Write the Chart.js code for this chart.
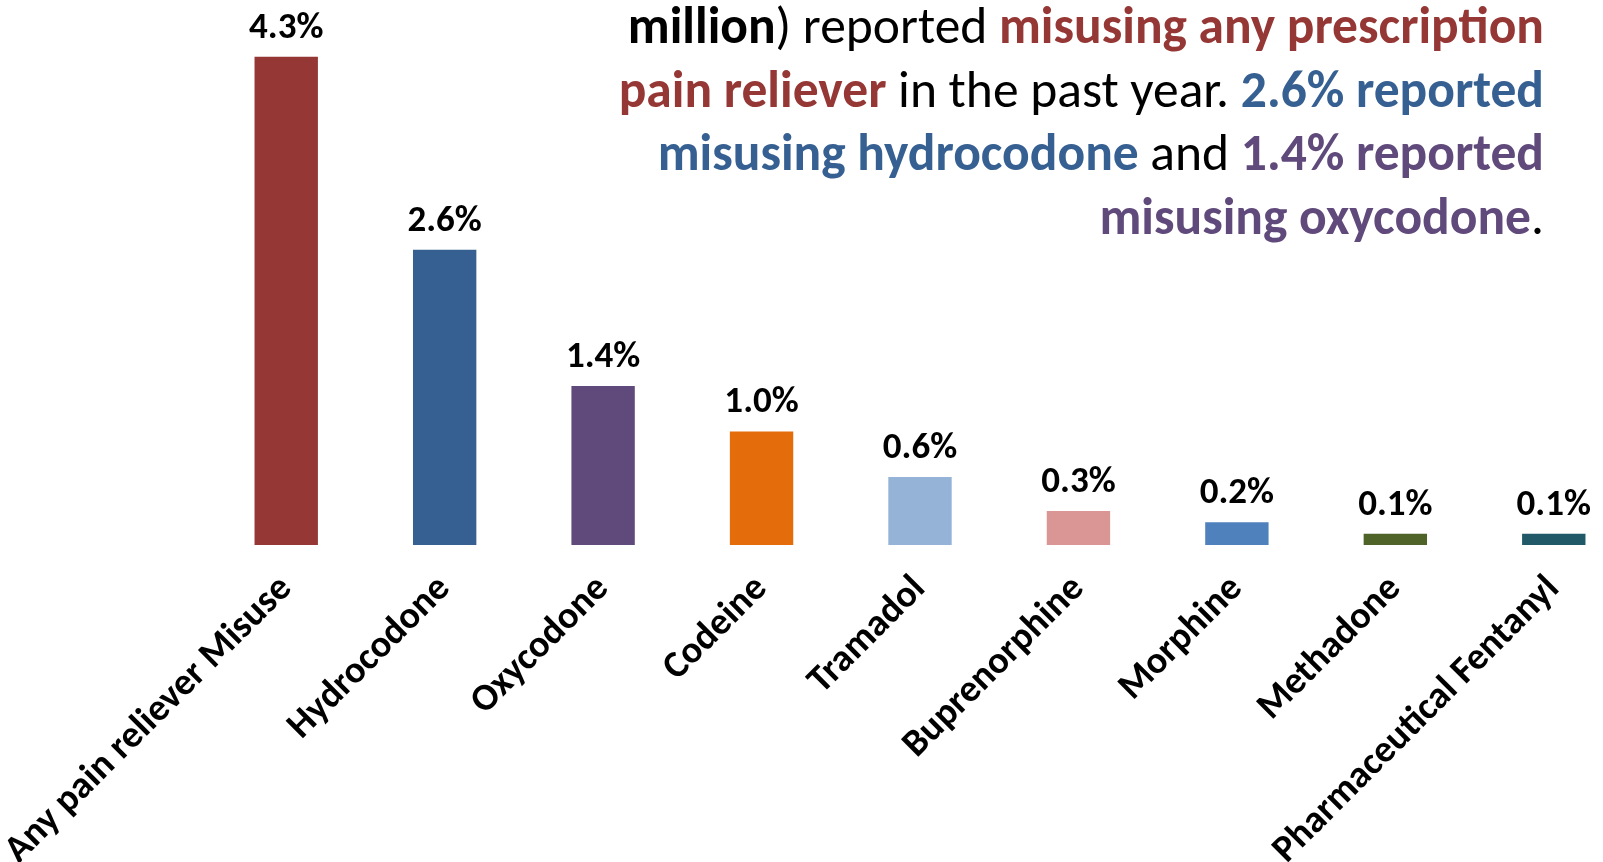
<!DOCTYPE html>
<html lang="en">
<head>
    <meta charset="UTF-8">
    <title>Prescription Pain Reliever Misuse</title>
    <script src="https://cdn.jsdelivr.net/npm/chart.js"></script>
    <style>
        body { margin: 0; width: 1603px; height: 862px; overflow: hidden; background: #fff; position: relative; }
        #wrap { position: absolute; left: -60px; top: 0; width: 1700px; height: 862px; }
        #note {
            position: absolute; right: 59px; top: -6px; text-align: right;
            font-family: Carlito, Lato, sans-serif; font-size: 51.5px; line-height: 63.5px;
            color: #000; white-space: nowrap;
        }
        #note b { font-weight: 700; }
        .red { color: #953735; }
        .blue { color: #376092; }
        .purple { color: #604A7B; }
    </style>
</head>
<body>
    <div id="wrap"><canvas id="chart"></canvas></div>
    <div id="note">
        <b>million</b>) reported <b class="red">misusing any prescription</b><br>
        <b class="red">pain reliever</b> in the past year. <b class="blue">2.6% reported</b><br>
        <b class="blue">misusing hydrocodone</b> and <b class="purple">1.4% reported</b><br>
        <b class="purple">misusing oxycodone</b>.
    </div>

    <script>
        var labels = ['Any pain reliever Misuse', 'Hydrocodone', 'Oxycodone', 'Codeine', 'Tramadol',
                      'Buprenorphine', 'Morphine', 'Methadone', 'Pharmaceutical Fentanyl'];
        var percents = [4.3, 2.6, 1.4, 1.0, 0.6, 0.3, 0.2, 0.1, 0.1];
        var barColors = ['#953735', '#366092', '#604A7B', '#E46C0A', '#95B3D7',
                         '#D99694', '#4F81BD', '#4F6228', '#215968'];

        var fontFamily = 'Carlito, Lato, sans-serif';

        // value labels above each bar
        var valueLabels = {
            id: 'valueLabels',
            afterDatasetsDraw: function(chart) {
                var ctx = chart.ctx;
                var meta = chart.getDatasetMeta(0);
                ctx.save();
                ctx.font = 'bold 37px ' + fontFamily;
                ctx.fillStyle = '#000';
                ctx.textAlign = 'center';
                ctx.textBaseline = 'alphabetic';
                meta.data.forEach(function(bar, i) {
                    ctx.fillText(percents[i].toFixed(1) + '%', bar.x, bar.y - 19);
                });
                ctx.restore();
            }
        };

        new Chart(document.getElementById('chart'), {
            type: 'bar',
            data: {
                labels: labels,
                datasets: [{
                    data: percents,
                    backgroundColor: barColors,
                    borderWidth: 0,
                    categoryPercentage: 0.4,
                    barPercentage: 1.0
                }]
            },
            options: {
                responsive: true,
                maintainAspectRatio: false,
                animation: false,
                layout: { padding: { left: 267, right: 7, top: 0, bottom: 0 } },
                plugins: { legend: { display: false }, tooltip: { enabled: false } },
                scales: {
                    x: {
                        grid: { display: false, drawTicks: false },
                        border: { display: false },
                        ticks: {
                            color: '#000',
                            font: { family: fontFamily, size: 38, weight: 'bold' },
                            minRotation: 45,
                            maxRotation: 45,
                            autoSkip: false,
                            padding: 22
                        },
                        afterFit: function(scale) {
                            // fixed axis band; rotated labels may hang past the plot edges
                            scale.height = 317;
                            scale.paddingLeft = 0;
                            scale.paddingRight = 0;
                        }
                    },
                    y: {
                        display: false,
                        min: 0,
                        max: 4.8
                    }
                }
            },
            plugins: [valueLabels]
        });
    </script>
</body>
</html>
